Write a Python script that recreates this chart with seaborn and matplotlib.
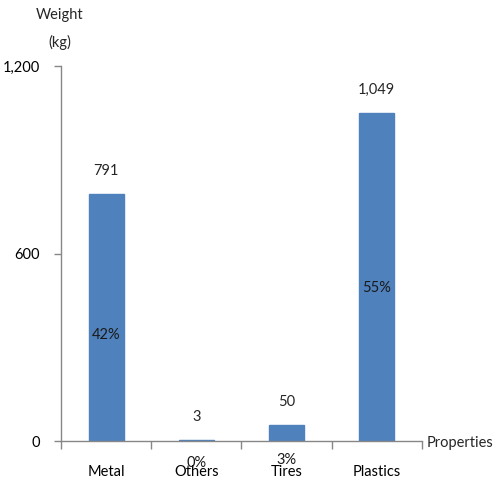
import matplotlib
matplotlib.use("Agg")
import matplotlib.pyplot as plt
import seaborn as sns
import pandas as pd
from matplotlib.ticker import FixedLocator

categories = ["Metal", "Others", "Tires", "Plastics"]
weights = [791, 3, 50, 1049]
shares = ["42%", "0%", "3%", "55%"]
y_ticks = [0, 600, 1200]
y_tick_labels = ["0", "600", "1,200"]

sns.set_theme(style="white")
plt.rcParams["font.family"] = ["Lato", "DejaVu Sans"]

df = pd.DataFrame({"category": categories, "weight": weights})

fig = plt.figure(figsize=(4.98, 4.84), dpi=100)
ax = fig.add_axes([0.1225, 0.0888, 0.7245, 0.7748])

sns.barplot(data=df, x="category", y="weight", color="#4F81BD", saturation=1,
            width=0.39, linewidth=1, edgecolor="#4F81BD", ax=ax)

ax.set_ylim(0, 1200)
ax.set_xlim(-0.5, len(categories) - 0.5)
ax.set_yticks(y_ticks)
ax.set_yticklabels(y_tick_labels)
ax.set_xlabel("")
ax.set_ylabel("")

# category labels at bar centres, boundary tick marks between categories
ax.set_xticks(range(len(categories)))
ax.set_xticklabels(categories)
ax.xaxis.set_minor_locator(FixedLocator([i - 0.5 for i in range(len(categories) + 1)]))
ax.tick_params(axis="x", which="major", length=0, pad=17, labelsize=10.5, colors="black")
ax.tick_params(axis="x", which="minor", direction="out", length=6, width=1,
               color="#878787", bottom=True)
ax.tick_params(axis="y", direction="out", length=5, width=1, color="#878787",
               labelsize=10.5, pad=10, left=True, labelcolor="black")

for s in ["top", "right"]:
    ax.spines[s].set_visible(False)
for s in ["left", "bottom"]:
    ax.spines[s].set_color("#878787")
    ax.spines[s].set_linewidth(1)

# value labels above bars, share labels inside
share_offsets = [-18, -22, -27, -11]
for i, (w, s) in enumerate(zip(weights, shares)):
    ax.annotate(f"{w:,}", (i, w), xytext=(0, 23), textcoords="offset pixels",
                ha="center", va="center", fontsize=10.5)
    ax.annotate(s, (i, w / 2), xytext=(0, share_offsets[i]), textcoords="offset pixels",
                ha="center", va="center", fontsize=10.5, color="#1a1a1a")

fig.text(60 / 498, 1 - 15 / 484, "Weight", ha="center", va="center", fontsize=10.5)
fig.text(60 / 498, 1 - 42 / 484, "(kg)", ha="center", va="center", fontsize=10.5)
fig.text(460 / 498, 1 - 443 / 484, "Properties", ha="center", va="center", fontsize=10.5)

fig.savefig("out.png", dpi=100)
